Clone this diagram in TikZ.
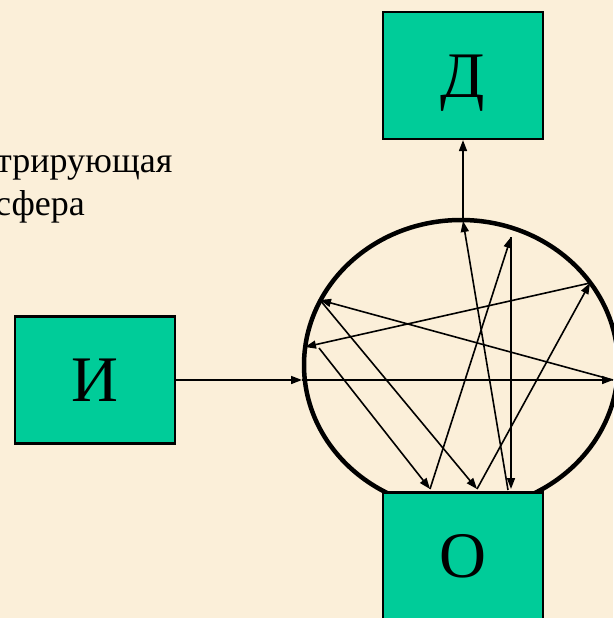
\documentclass[tikz,border=0pt]{standalone}
\usepackage{fontspec}
\setmainfont{Liberation Serif}
\usepackage{xcolor}
\usetikzlibrary{arrows.meta,positioning}
\definecolor{boxfill}{HTML}{00CC99}
\definecolor{paper}{HTML}{FBEFD9}

\begin{document}
\begin{tikzpicture}[
  x=1pt, y=-1pt,
  blk/.style={draw, line width=2.2pt, fill=boxfill, minimum width=160pt, minimum height=127pt,
              inner sep=0pt, text height=43pt, text depth=0pt, font=\fontsize{65}{70}\selectfont},
  ray/.style={line width=1.6pt, -{Triangle[length=11pt,width=8pt]}},
  lbl/.style={anchor=base west, inner sep=0pt, font=\fontsize{36}{43}\selectfont},
]
\fill[paper] (0,0) rectangle (613,618);
\useasboundingbox (0,0) rectangle (613,618);
% ---------- label ----------
\node[lbl] (lblA) at (-4,172) {трирующая};
\node[lbl] (lblB) at (-5,215) {сфера};
% ---------- sphere ----------
\draw[line width=4.5pt] (461,365) ellipse [x radius=157pt, y radius=145pt];
% ---------- blocks ----------
\node[blk] (src) at (95,380) {И};
\node[blk] (det) at (463,75.5) {Д};
\node[blk] (obj) at (463,556) {О};
% ---------- reflection points ----------
\coordinate (inL) at (302,380);
\coordinate (inR) at (613,380);
\coordinate (w1) at (320,300);
\coordinate (w2) at (590,283);
\coordinate (w3) at (305,347);
\coordinate (w4) at (319,348);
\coordinate (w5) at (511,237);
\coordinate (top) at (463,221);
\coordinate (b1) at (430,489);
\coordinate (b2) at (477,489);
\coordinate (b3) at (511,489);
\coordinate (b4) at (508,490);
% ---------- rays ----------
\draw[ray] (src.east) -- (inL);
\draw[ray] (inL) -- (inR);
\draw[ray] (inR) -- (w1);
\draw[ray] (w1) -- (b2);
\draw[ray] (b2) -- (w2);
\draw[ray] (w2) -- (w3);
\draw[ray] (w4) -- (b1);
\draw[ray] (b1) -- (w5);
\draw[ray] (w5) -- (b3);
\draw[ray] (b4) -- (top);
\draw[ray] (top) -- (det.south);
\end{tikzpicture}
\end{document}
